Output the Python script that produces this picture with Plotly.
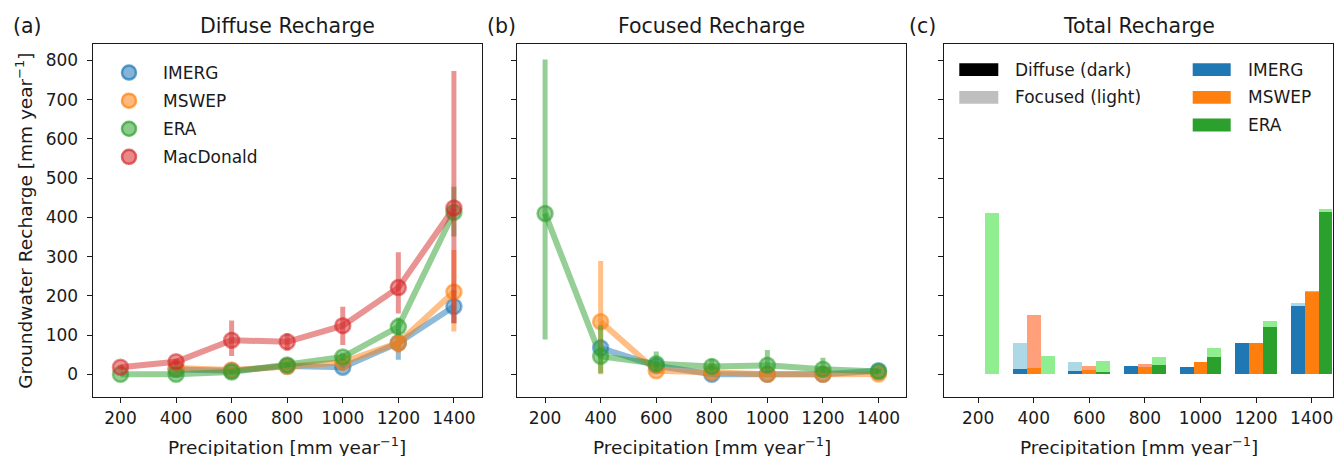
import plotly.graph_objects as go

W, H = 1336, 456
FONT = "DejaVu Sans"
INK = "#1a1a1a"

# ---- data -------------------------------------------------------------
precip = [200, 400, 600, 800, 1000, 1200, 1400]
precip_ticks = [200, 400, 600, 800, 1000, 1200, 1400]
recharge_ticks = [0, 100, 200, 300, 400, 500, 600, 700, 800]

# diffuse recharge (mm/yr) with lower / upper bounds
imerg_diffuse = [None, 12, 9, 21, 18, 80, 173]
imerg_diffuse_lo = [None, 8, 5, 15, 10, 37, 130]
imerg_diffuse_hi = [None, 16, 13, 27, 26, 115, 215]

mswep_diffuse = [None, 16, 11, 20, 31, 80, 210]
mswep_diffuse_lo = [None, 10, 5, 14, 22, 55, 109]
mswep_diffuse_hi = [None, 22, 17, 26, 40, 110, 317]

era_diffuse = [0, 0, 6, 24, 44, 121, 413]
era_diffuse_lo = [0, 0, 2, 18, 35, 100, 351]
era_diffuse_hi = [0, 0, 10, 30, 55, 145, 478]

macdonald_diffuse = [18, 32, 87, 83, 124, 221, 424]
macdonald_diffuse_lo = [12, 24, 47, 60, 75, 155, 130]
macdonald_diffuse_hi = [24, 40, 137, 105, 172, 311, 773]

# focused recharge (mm/yr) with lower / upper bounds
imerg_focused = [None, 67, 22, 0, 0, 0, 9]
imerg_focused_lo = [None, 45, 12, 0, 0, 0, 4]
imerg_focused_hi = [None, 90, 32, 4, 4, 4, 14]

mswep_focused = [None, 134, 9, 5, 0, 0, 1]
mswep_focused_lo = [None, 0, 4, 0, 0, 0, 0]
mswep_focused_hi = [None, 289, 14, 10, 4, 4, 4]

era_focused = [410, 46, 27, 20, 23, 13, 7]
era_focused_lo = [89, 3, 5, 8, 5, 3, 3]
era_focused_hi = [802, 125, 58, 40, 62, 42, 12]

# ---- styling ----------------------------------------------------------
C = {
    "IMERG": (31, 119, 180),
    "MSWEP": (255, 127, 14),
    "ERA": (44, 160, 44),
    "MacDonald": (214, 39, 40),
}
LIGHT = {"IMERG": "#add8e6", "MSWEP": "#ffa07a", "ERA": "#90ee90"}
DARK = {"IMERG": "#1f77b4", "MSWEP": "#ff7f0e", "ERA": "#2ca02c"}


def rgba(c, a):
    return f"rgba({c[0]},{c[1]},{c[2]},{a})"


def err_arrays(vals, lo, hi):
    plus, minus = [], []
    for v, l, h in zip(vals, lo, hi):
        if v is None:
            plus.append(None)
            minus.append(None)
        else:
            plus.append(h - v)
            minus.append(v - l)
    return plus, minus


fig = go.Figure()


def add_series(name, vals, lo, hi, xa, ya):
    col = C[name]
    plus, minus = err_arrays(vals, lo, hi)
    fig.add_trace(go.Scatter(
        x=precip, y=vals, mode="lines+markers", xaxis=xa, yaxis=ya,
        line=dict(color=rgba(col, 0.5), width=6),
        marker=dict(size=15, color=rgba(col, 0.5),
                    line=dict(color=rgba(col, 0.55), width=2.5)),
        error_y=dict(type="data", array=plus, arrayminus=minus,
                     color=rgba(col, 0.5), thickness=5, width=0),
        showlegend=False, hoverinfo="skip",
    ))


# (a) diffuse
add_series("IMERG", imerg_diffuse, imerg_diffuse_lo, imerg_diffuse_hi, "x", "y")
add_series("MSWEP", mswep_diffuse, mswep_diffuse_lo, mswep_diffuse_hi, "x", "y")
add_series("ERA", era_diffuse, era_diffuse_lo, era_diffuse_hi, "x", "y")
add_series("MacDonald", macdonald_diffuse, macdonald_diffuse_lo, macdonald_diffuse_hi, "x", "y")

# legend proxies for panel (a): markers only
for name in ["IMERG", "MSWEP", "ERA", "MacDonald"]:
    col = C[name]
    fig.add_trace(go.Scatter(
        x=[None], y=[None], mode="markers", name=name, legendgroup=name,
        xaxis="x", yaxis="y",
        marker=dict(size=14, color=rgba(col, 0.55),
                    line=dict(color=rgba(col, 0.7), width=2.5)),
    ))

# (b) focused
add_series("IMERG", imerg_focused, imerg_focused_lo, imerg_focused_hi, "x2", "y2")
add_series("MSWEP", mswep_focused, mswep_focused_lo, mswep_focused_hi, "x2", "y2")
add_series("ERA", era_focused, era_focused_lo, era_focused_hi, "x2", "y2")

# (c) total = diffuse (dark) + focused (light), grouped by dataset
groups = [
    ("IMERG", -50, imerg_diffuse, imerg_focused),
    ("MSWEP", 0, mswep_diffuse, mswep_focused),
    ("ERA", 50, era_diffuse, era_focused),
]
BAR_W = 50
for name, off, dif, foc in groups:
    xs = [p + off for p in precip]
    fig.add_trace(go.Bar(
        x=xs, y=dif, width=BAR_W, base=0, xaxis="x3", yaxis="y3",
        marker=dict(color=DARK[name], line=dict(width=0)),
        showlegend=False, hoverinfo="skip",
    ))
    fig.add_trace(go.Bar(
        x=xs, y=foc, width=BAR_W, base=dif, xaxis="x3", yaxis="y3",
        marker=dict(color=LIGHT[name], line=dict(width=0)),
        showlegend=False, hoverinfo="skip",
    ))

# ---- axes ---------------------------------------------------------------
def px_x(v):
    return v / W


def px_y(v):
    return 1 - v / H


PANELS = [(92.7, 481.7), (517.3, 906.3), (944.0, 1333.0)]
TOP, BOTTOM = 44.3, 396.7
XRANGES = [[100, 1500], [100, 1500], [77, 1477]]

axis_common = dict(
    showline=True, linecolor=INK, linewidth=1.3, mirror=True,
    ticks="outside", ticklen=5, tickwidth=1.3, tickcolor=INK,
    showgrid=False, zeroline=False,
    tickfont=dict(family=FONT, size=17, color=INK),
)

layout = dict(
    width=W, height=H,
    margin=dict(l=0, r=0, t=0, b=0),
    paper_bgcolor="white", plot_bgcolor="white",
    barmode="overlay", bargap=0,
    font=dict(family=FONT, color=INK),
    showlegend=True,
)

for i, ((x0, x1), xr) in enumerate(zip(PANELS, XRANGES)):
    sx = "" if i == 0 else str(i + 1)
    layout["xaxis" + sx] = dict(
        axis_common, domain=[px_x(x0), px_x(x1)], range=xr,
        tickvals=precip_ticks, anchor="y" + sx, ticklabelstandoff=1,
    )
    layout["yaxis" + sx] = dict(
        axis_common, domain=[px_y(BOTTOM), px_y(TOP)], range=[-57, 841],
        tickvals=recharge_ticks, anchor="x" + sx,
        showticklabels=(i == 0), ticklabelstandoff=5,
    )

layout["legend"] = dict(
    x=px_x(95), y=px_y(55), xanchor="left", yanchor="top",
    bgcolor="rgba(0,0,0,0)", borderwidth=0,
    font=dict(family=FONT, size=17, color=INK),
    itemwidth=58, tracegroupgap=3,
)

ann = []
titles = ["Diffuse Recharge", "Focused Recharge", "Total Recharge"]
letters = ["(a)", "(b)", "(c)"]
letter_x = [27, 501, 922]
for (x0, x1), t, lt, lx in zip(PANELS, titles, letters, letter_x):
    ann.append(dict(text=t, x=px_x((x0 + x1) / 2), y=px_y(25.8),
                    xref="paper", yref="paper", showarrow=False,
                    xanchor="center", yanchor="middle",
                    font=dict(family=FONT, size=20.5, color=INK)))
    ann.append(dict(text=lt, x=px_x(lx), y=px_y(25.8),
                    xref="paper", yref="paper", showarrow=False,
                    xanchor="center", yanchor="middle",
                    font=dict(family=FONT, size=20.5, color=INK)))
    ann.append(dict(text="Precipitation [mm year<sup>\u22121</sup>]",
                    x=px_x((x0 + x1) / 2), y=px_y(446),
                    xref="paper", yref="paper", showarrow=False,
                    xanchor="center", yanchor="middle",
                    font=dict(family=FONT, size=18.5, color=INK)))

ann.append(dict(text="Groundwater Recharge [mm year<sup>\u22121</sup>]",
                x=px_x(23.3), y=px_y((TOP + BOTTOM) / 2), textangle=-90,
                xref="paper", yref="paper", showarrow=False,
                xanchor="center", yanchor="middle",
                font=dict(family=FONT, size=18.5, color=INK)))

# two-column key for panel (c)
shapes = []
key_rows_left = [("Diffuse (dark)", "black", 69.7), ("Focused (light)", "#bfbfbf", 97.3)]
key_rows_right = [("IMERG", DARK["IMERG"], 69.7), ("MSWEP", DARK["MSWEP"], 97.3),
                  ("ERA", DARK["ERA"], 125.0)]
for rows, px0, px1, tx in [(key_rows_left, 959.3, 998.3, 1013.3),
                           (key_rows_right, 1192.7, 1230.7, 1246.0)]:
    for label, colr, cy in rows:
        shapes.append(dict(type="rect", xref="paper", yref="paper",
                           x0=px_x(px0), x1=px_x(px1),
                           y0=px_y(cy + 6.4), y1=px_y(cy - 6.4),
                           fillcolor=colr, line=dict(width=0)))
        ann.append(dict(text=label, x=px_x(tx), y=px_y(cy),
                        xref="paper", yref="paper", showarrow=False,
                        xanchor="left", yanchor="middle",
                        font=dict(family=FONT, size=17, color=INK)))

layout["annotations"] = ann
layout["shapes"] = shapes
fig.update_layout(layout)

fig.write_html("out.html")
